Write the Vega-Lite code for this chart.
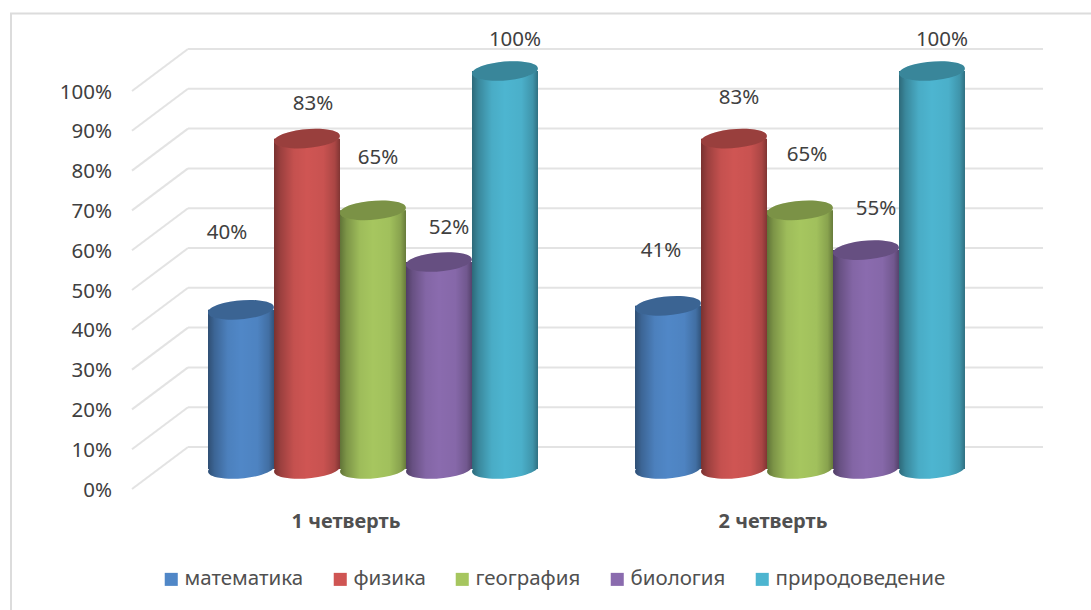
{
"$schema":"https://vega.github.io/schema/vega-lite/v6.json",
"width":854,"height":398,
"autosize":"none",
"padding":{"left":159.5,"top":91,"right":77.5,"bottom":121},
"background":"white",
"config":{"view":{"stroke":null},"font":"Noto Sans","axis":{"labelOverlap":false,"labelSeparation":0},"axisY":{"labelOverlap":false,"tickCount":11}},
"datasets":{
"bars":[
{"q":"1 четверть","s":"математика","v":40,"label":"40%"},
{"q":"1 четверть","s":"физика","v":83,"label":"83%"},
{"q":"1 четверть","s":"география","v":65,"label":"65%"},
{"q":"1 четверть","s":"биология","v":52,"label":"52%"},
{"q":"1 четверть","s":"природоведение","v":100,"label":"100%"},
{"q":"2 четверть","s":"математика","v":41,"label":"41%"},
{"q":"2 четверть","s":"физика","v":83,"label":"83%"},
{"q":"2 четверть","s":"география","v":65,"label":"65%"},
{"q":"2 четверть","s":"биология","v":55,"label":"55%"},
{"q":"2 четверть","s":"природоведение","v":100,"label":"100%"}
],
"ticks":[{"t":0},{"t":10},{"t":20},{"t":30},{"t":40},{"t":50},{"t":60},{"t":70},{"t":80},{"t":90},{"t":100}]
},
"data":{"name":"bars"},
"resolve":{"scale":{"x":"independent"}},
"layer":[
{"data":{"values":[{"a":-0.207,"b":1.067,"top":119.5,"bottom":-33}]},
 "mark":{"type":"rect","fill":null,"stroke":"#dcdcdc","strokeWidth":2},
 "encoding":{
  "x":{"field":"a","type":"quantitative","scale":{"domain":[0,1],"range":[28.5,883.5],"zero":false,"nice":false},"axis":null},
  "x2":{"field":"b"},
  "y":{"field":"top","type":"quantitative","scale":{"domain":[0,100],"nice":false},
    "axis":{"title":null,"domain":false,"ticks":false,"grid":false,"values":[0,10,20,30,40,50,60,70,80,90,100],"labelExpr":"datum.value+'%'","labelFontSize":20.5,"labelColor":"#404040","labelPadding":48,"labelOverlap":false,"labelOffset":1,"labelBound":false,"labelFlush":false}},
  "y2":{"field":"bottom"}}},
{"data":{"name":"ticks"},
 "mark":{"type":"rule","stroke":"#e3e3e3","strokeWidth":2,"yOffset":-42},
 "encoding":{
  "x":{"datum":0,"type":"quantitative","scale":{"domain":[0,1],"range":[28.5,883.5],"nice":false},"axis":null},
  "x2":{"datum":1},
  "y":{"field":"t","type":"quantitative"}}},
{"data":{"name":"ticks"},
 "mark":{"type":"rule","stroke":"#e3e3e3","strokeWidth":2,"y2Offset":-42},
 "encoding":{
  "x":{"datum":0,"type":"quantitative","scale":{"domain":[0,1],"range":[-27.5,28.5],"nice":false},"axis":null},
  "x2":{"datum":1},
  "y":{"field":"t","type":"quantitative"},
  "y2":{"field":"t"}}},
{"encoding":{
  "x":{"field":"q","type":"nominal","scale":{"paddingInner":0.2272,"paddingOuter":0.1136},
     "axis":{"title":null,"domain":false,"ticks":false,"labelAngle":0,"labelFontSize":20,"labelFontWeight":"bold","labelColor":"#505050","labelOffset":-27,"labelPadding":22}},
  "xOffset":{"field":"s","type":"nominal","sort":["математика","физика","география","биология","природоведение"]}
 },
 "layer":[
 {"mark":{"type":"point","shape":"M-0.996,0.087A1,0.28,-5,1,1,0.996,-0.087A1,0.28,-5,1,1,-0.996,0.087Z","filled":true,"opacity":1,"size":4356,"yOffset":-20},
  "encoding":{"y":{"datum":0,"type":"quantitative"},
   "color":{"field":"s","type":"nominal"}}},
 {"mark":{"type":"point","shape":"M-0.996,0.087A1,0.28,-5,1,1,0.996,-0.087A1,0.28,-5,1,1,-0.996,0.087Z","filled":true,"opacity":1,"size":4356,"yOffset":-20,
   "fill":{"gradient":"linear","x1":0,"x2":1,"y1":0,"y2":0,"stops":[{"offset":0,"color":"rgba(0,0,0,0.42)"},{"offset":0.1,"color":"rgba(0,0,0,0.25)"},{"offset":0.3,"color":"rgba(0,0,0,0.05)"},{"offset":0.5,"color":"rgba(0,0,0,0)"},{"offset":0.75,"color":"rgba(0,0,0,0.03)"},{"offset":0.92,"color":"rgba(0,0,0,0.18)"},{"offset":1,"color":"rgba(0,0,0,0.38)"}]}},
  "encoding":{"y":{"datum":0,"type":"quantitative"}}},
 {"mark":{"type":"bar","yOffset":-20,"y2Offset":-20},
  "encoding":{
   "y":{"field":"v","type":"quantitative"},
   "y2":{"datum":0},
   "color":{"field":"s","type":"nominal",
     "scale":{"domain":["математика","физика","география","биология","природоведение"],"range":["#5087C7","#CF5553","#A6C65F","#8A6BAE","#4DB5D0"]},
     "legend":{"title":null,"orient":"none","legendX":1.5,"legendY":478,"columns":5,"columnPadding":26,"symbolType":"square","symbolSize":170,"symbolStrokeWidth":0,"labelFontSize":20.5,"labelColor":"#505050","labelOffset":3,"labelLimit":300}}}},
 {"mark":{"type":"bar","yOffset":-20,"y2Offset":-20,
   "fill":{"gradient":"linear","x1":0,"x2":1,"y1":0,"y2":0,"stops":[{"offset":0,"color":"rgba(0,0,0,0.42)"},{"offset":0.1,"color":"rgba(0,0,0,0.25)"},{"offset":0.3,"color":"rgba(0,0,0,0.05)"},{"offset":0.5,"color":"rgba(0,0,0,0)"},{"offset":0.75,"color":"rgba(0,0,0,0.03)"},{"offset":0.92,"color":"rgba(0,0,0,0.18)"},{"offset":1,"color":"rgba(0,0,0,0.38)"}]}},
  "encoding":{"y":{"field":"v","type":"quantitative"},"y2":{"datum":0}}},
 {"mark":{"type":"point","shape":"M-0.996,0.087A1,0.28,-5,1,1,0.996,-0.087A1,0.28,-5,1,1,-0.996,0.087Z","filled":true,"opacity":1,"size":4356,"yOffset":-20},
  "encoding":{"y":{"field":"v","type":"quantitative"},"color":{"field":"s","type":"nominal"}}},
 {"mark":{"type":"point","shape":"M-0.996,0.087A1,0.28,-5,1,1,0.996,-0.087A1,0.28,-5,1,1,-0.996,0.087Z","filled":true,"opacity":1,"size":4356,"yOffset":-20,"fill":"rgba(0,0,0,0.26)"},
  "encoding":{"y":{"field":"v","type":"quantitative"}}},
 {"transform":[{"filter":"datum.q=='1 четверть' && datum.s=='математика'"}],"mark":{"type":"text","fontSize":20.5,"fill":"#404040","dx":-14,"dy":-97},"encoding":{"y":{"field":"v","type":"quantitative"},"text":{"field":"label"}}},
 {"transform":[{"filter":"datum.q=='1 четверть' && datum.s=='физика'"}],"mark":{"type":"text","fontSize":20.5,"fill":"#404040","dx":6,"dy":-55},"encoding":{"y":{"field":"v","type":"quantitative"},"text":{"field":"label"}}},
 {"transform":[{"filter":"datum.q=='1 четверть' && datum.s=='география'"}],"mark":{"type":"text","fontSize":20.5,"fill":"#404040","dx":5,"dy":-72},"encoding":{"y":{"field":"v","type":"quantitative"},"text":{"field":"label"}}},
 {"transform":[{"filter":"datum.q=='1 четверть' && datum.s=='биология'"}],"mark":{"type":"text","fontSize":20.5,"fill":"#404040","dx":10,"dy":-54},"encoding":{"y":{"field":"v","type":"quantitative"},"text":{"field":"label"}}},
 {"transform":[{"filter":"datum.q=='1 четверть' && datum.s=='природоведение'"}],"mark":{"type":"text","fontSize":20.5,"fill":"#404040","dx":10,"dy":-51},"encoding":{"y":{"field":"v","type":"quantitative"},"text":{"field":"label"}}},
 {"transform":[{"filter":"datum.q=='2 четверть' && datum.s=='математика'"}],"mark":{"type":"text","fontSize":20.5,"fill":"#404040","dx":-7,"dy":-75},"encoding":{"y":{"field":"v","type":"quantitative"},"text":{"field":"label"}}},
 {"transform":[{"filter":"datum.q=='2 четверть' && datum.s=='физика'"}],"mark":{"type":"text","fontSize":20.5,"fill":"#404040","dx":5,"dy":-61},"encoding":{"y":{"field":"v","type":"quantitative"},"text":{"field":"label"}}},
 {"transform":[{"filter":"datum.q=='2 четверть' && datum.s=='география'"}],"mark":{"type":"text","fontSize":20.5,"fill":"#404040","dx":7,"dy":-75},"encoding":{"y":{"field":"v","type":"quantitative"},"text":{"field":"label"}}},
 {"transform":[{"filter":"datum.q=='2 четверть' && datum.s=='биология'"}],"mark":{"type":"text","fontSize":20.5,"fill":"#404040","dx":10,"dy":-61},"encoding":{"y":{"field":"v","type":"quantitative"},"text":{"field":"label"}}},
 {"transform":[{"filter":"datum.q=='2 четверть' && datum.s=='природоведение'"}],"mark":{"type":"text","fontSize":20.5,"fill":"#404040","dx":10,"dy":-51},"encoding":{"y":{"field":"v","type":"quantitative"},"text":{"field":"label"}}}
 ]}
]
}
